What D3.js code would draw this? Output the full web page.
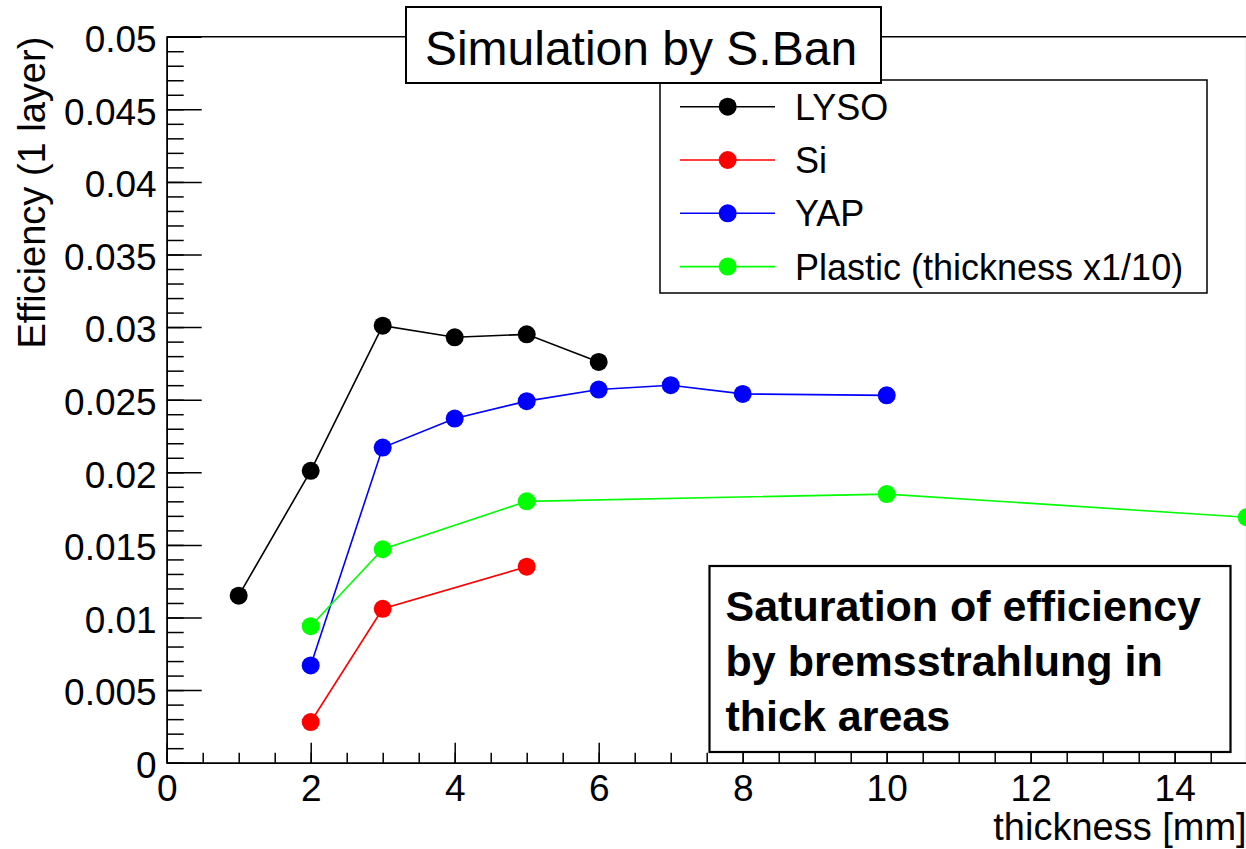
<!DOCTYPE html>
<html>
<head>
<meta charset="utf-8">
<script src="https://cdn.jsdelivr.net/npm/d3@7"></script>
<style>
  html, body { margin: 0; padding: 0; background: #fff; }
  svg { display: block; font-family: "Liberation Sans", Arial, Helvetica, sans-serif; }
</style>
</head>
<body>
<div id="chart"></div>
<script>
// thickness [mm] (plastic drawn at thickness x1/10)
var lysoX = [1, 2, 3, 4, 5, 6]
var lysoY = [0.0115, 0.0201, 0.0301, 0.0293, 0.0295, 0.0276]
var siX = [2, 3, 5]
var siY = [0.0028, 0.0106, 0.0135]
var yapX = [2, 3, 4, 5, 6, 7, 8, 10]
var yapY = [0.0067, 0.0217, 0.0237, 0.0249, 0.0257, 0.0260, 0.0254, 0.0253]
var plasticX = [2, 3, 5, 10, 15]
var plasticY = [0.0094, 0.0147, 0.0180, 0.0185, 0.0169]

var seriesNames = ["LYSO", "Si", "YAP", "Plastic (thickness x1/10)"]
var seriesColors = ["#000000", "#ff0000", "#0000ff", "#00ff00"]

var xTicks = [0, 2, 4, 6, 8, 10, 12, 14]
var yTicks = [0, 0.005, 0.01, 0.015, 0.02, 0.025, 0.03, 0.035, 0.04, 0.045, 0.05]

var titleText = "Simulation by S.Ban"
var noteLines = ["Saturation of efficiency", "by bremsstrahlung in", "thick areas"]
var xLabel = "thickness [mm]"
var yLabel = "Efficiency (1 layer)"

var W = 1246, H = 849
var margin = {top: 36.7, left: 166.7, bottom: 86.3}

var svg = d3.select("#chart").append("svg")
    .attr("width", W)
    .attr("height", H)

svg.append("rect").attr("width", W).attr("height", H).attr("fill", "#fff")

var xScale = d3.scaleLinear().domain([0, 15]).range([margin.left, margin.left + 1080])
var yScale = d3.scaleLinear().domain([0, 0.05]).range([H - margin.bottom, margin.top])

var fmtY = function(d){ return d === 0 ? "0" : d3.format("")(+d.toFixed(3)) }

// frame top / right
svg.append("line")
    .attr("x1", xScale(0)).attr("x2", xScale(15))
    .attr("y1", yScale(0.05)).attr("y2", yScale(0.05))
    .attr("stroke", "#000").attr("stroke-width", 1.5)
svg.append("line")
    .attr("x1", xScale(15)).attr("x2", xScale(15))
    .attr("y1", yScale(0.05)).attr("y2", yScale(0))
    .attr("stroke", "#000").attr("stroke-width", 1.5)

// y axis, ticks pointing inside
var yMinor = d3.range(0, 0.0505, 0.001)
svg.append("g")
    .attr("transform", `translate(${xScale(0)},0)`)
    .call(d3.axisLeft(yScale).tickValues(yMinor).tickSizeInner(-17).tickSizeOuter(0).tickFormat(""))
svg.append("g")
    .attr("class", "y axis")
    .attr("transform", `translate(${xScale(0)},0)`)
    .call(d3.axisLeft(yScale).tickValues(yTicks).tickSizeInner(-35).tickSizeOuter(0).tickPadding(10).tickFormat(fmtY))

// x axis
var xMinor = d3.range(0, 15.01, 0.5)
svg.append("g")
    .attr("transform", `translate(0,${yScale(0)})`)
    .call(d3.axisBottom(xScale).tickValues(xMinor).tickSizeInner(-10).tickSizeOuter(0).tickFormat(""))
svg.append("g")
    .attr("class", "x axis")
    .attr("transform", `translate(0,${yScale(0)})`)
    .call(d3.axisBottom(xScale).tickValues(xTicks).tickSizeInner(-20).tickSizeOuter(0).tickPadding(12))

svg.selectAll(".axis text")
    .attr("font-family", "Liberation Sans, Arial, sans-serif")
    .attr("font-size", 37)
    .attr("fill", "#000")
svg.selectAll(".y.axis text").attr("dy", "0.4em")
svg.selectAll("g path.domain, g .tick line").attr("stroke", "#000").attr("stroke-width", 1.5)

// axis titles
svg.append("text")
    .attr("x", xScale(15)).attr("y", 840)
    .attr("text-anchor", "end")
    .attr("font-size", 38)
    .text(xLabel)
svg.append("text")
    .attr("transform", `translate(45,${yScale(0.05)}) rotate(-90)`)
    .attr("text-anchor", "end")
    .attr("font-size", 38)
    .text(yLabel)

// graphs
var series = [[lysoX, lysoY], [siX, siY], [yapX, yapY], [plasticX, plasticY]]
var line = d3.line().x(d => xScale(d[0])).y(d => yScale(d[1]))
series.forEach(function(s, i){
    var pts = s[0].map((x, j) => [x, s[1][j]])
    var g = svg.append("g")
    g.append("path")
        .attr("d", line(pts))
        .attr("fill", "none")
        .attr("stroke", seriesColors[i])
        .attr("stroke-width", 1.6)
    g.selectAll("circle").data(pts).enter().append("circle")
        .attr("cx", d => xScale(d[0]))
        .attr("cy", d => yScale(d[1]))
        .attr("r", 9)
        .attr("fill", seriesColors[i])
})

// legend
var legend = svg.append("g")
legend.append("rect")
    .attr("x", 660).attr("y", 80).attr("width", 547).attr("height", 213)
    .attr("fill", "#fff").attr("stroke", "#000").attr("stroke-width", 1.5)
seriesNames.forEach(function(name, i){
    var y = 106.7 + i * 53.3
    legend.append("line")
        .attr("x1", 680).attr("x2", 775).attr("y1", y).attr("y2", y)
        .attr("stroke", seriesColors[i]).attr("stroke-width", 1.6)
    legend.append("circle")
        .attr("cx", 727.7).attr("cy", y).attr("r", 9)
        .attr("fill", seriesColors[i])
    legend.append("text")
        .attr("x", 795).attr("y", y + 13)
        .attr("font-size", 36)
        .text(name)
})

// title box
svg.append("rect")
    .attr("x", 406).attr("y", 7).attr("width", 475).attr("height", 76)
    .attr("fill", "#fff").attr("stroke", "#000").attr("stroke-width", 2)
svg.append("text")
    .attr("x", 641).attr("y", 65)
    .attr("text-anchor", "middle")
    .attr("font-size", 48)
    .text(titleText)

// note box
svg.append("rect")
    .attr("x", 709.5).attr("y", 566).attr("width", 521).attr("height", 186)
    .attr("fill", "#fff").attr("stroke", "#000").attr("stroke-width", 2.2)
noteLines.forEach(function(t, i){
    svg.append("text")
        .attr("x", 725.5).attr("y", 621 + i * 55)
        .attr("font-size", 43)
        .attr("font-weight", "bold")
        .text(t)
})
</script>
</body>
</html>
